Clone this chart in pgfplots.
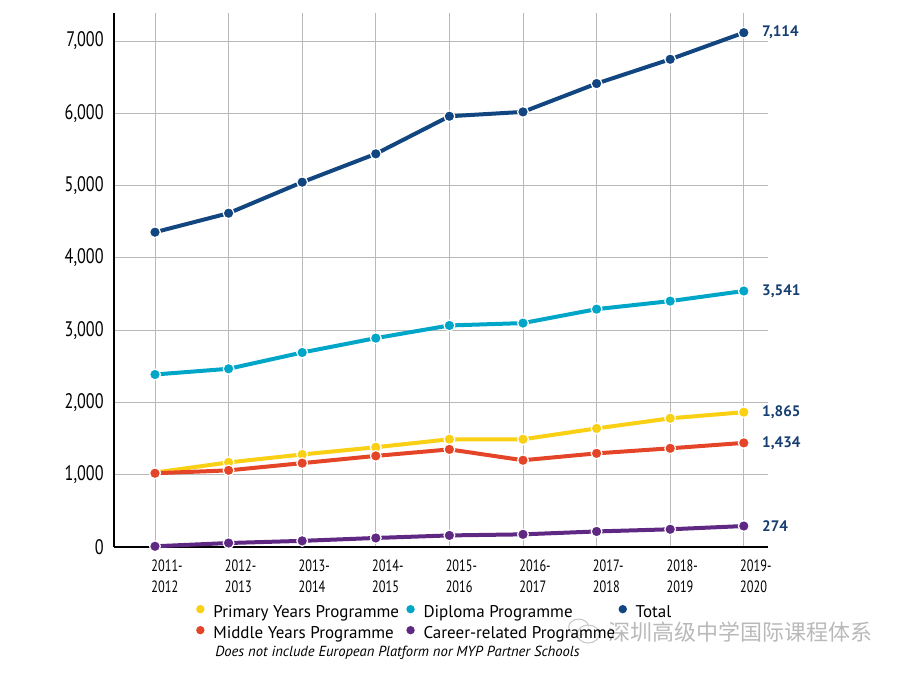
\documentclass[border=0pt]{standalone}
\usepackage{fontspec}
\setmainfont{PT Sans}
\newfontfamily\ycond[FakeStretch=0.77]{PT Sans}
\newfontfamily\xcond[FakeStretch=0.75]{PT Sans}
\newfontfamily\cjk{Noto Sans CJK SC}
\usepackage{pgfplots}
\pgfplotsset{compat=1.18}
\definecolor{ctotal}{RGB}{18,70,128}
\definecolor{cdp}{RGB}{0,166,200}
\definecolor{cpyp}{RGB}{250,208,20}
\definecolor{cmyp}{RGB}{228,69,40}
\definecolor{ccp}{RGB}{95,40,130}
\definecolor{clab}{RGB}{22,62,112}
\begin{document}
\begin{tikzpicture}
\useasboundingbox (0,0) rectangle (450pt,337.5pt);
\begin{axis}[
  at={(57pt,64pt)}, anchor=south west,
  scale only axis, width=327pt, height=267pt,
  xmin=-0.557, xmax=8.329, ymin=0, ymax=7386,
  clip=false,
  axis x line=bottom, axis y line=left,
  axis line style={black, line width=0.9pt, -},
  major tick length=0pt,
  grid=major, major grid style={gray!55, line width=0.4pt},
  xtick={0,...,8},
  xticklabels={{2011-\\2012},{2012-\\2013},{2013-\\2014},{2014-\\2015},{2015-\\2016},{2016-\\2017},{2017-\\2018},{2018-\\2019},{2019-\\2020}},
  xticklabel style={align=left, font=\xcond\fontsize{8.2}{10.5}\selectfont, inner sep=0pt, anchor=north west, xshift=-2pt, yshift=-6pt},
  ytick={0,1000,...,7000},
  yticklabel style={font=\ycond\fontsize{10.5}{12}\selectfont, inner sep=0pt, anchor=east, xshift=-5pt},
  /pgf/number format/.cd, 1000 sep={,}, assume math mode=true, /pgfplots/.cd,
  every axis plot/.append style={line width=2pt, mark=*, mark size=2.7pt},
  legend image code/.code={\fill[#1, draw=none] (2.6pt,2.4pt) circle (2.1pt);},
  legend columns=3,
  legend style={at={(axis description cs:0.125,-0.105)}, anchor=north west,
    draw=none, fill=none, inner sep=0pt, column sep=0pt, row sep=0pt,
    font=\fontsize{8.5}{10}\selectfont,
    nodes={inner sep=0pt, text height=7pt, text depth=3.5pt}},
]
\addplot[color=cpyp, mark options={fill=cpyp, draw=white, line width=0.6pt}] coordinates {
 (0,1030) (1,1170) (2,1280) (3,1380) (4,1490) (5,1490) (6,1640) (7,1780) (8,1865)};
\addlegendentry{\hspace{4.4pt}\makebox[96.5pt][l]{Primary Years Programme}}
\addplot[color=cdp, mark options={fill=cdp, draw=white, line width=0.6pt}] coordinates {
 (0,2386) (1,2465) (2,2690) (3,2889) (4,3064) (5,3097) (6,3290) (7,3401) (8,3541)};
\addlegendentry{\hspace{4.4pt}\makebox[97.5pt][l]{Diploma Programme}}
\addplot[color=ctotal, mark options={fill=ctotal, draw=white, line width=0.6pt}] coordinates {
 (0,4354) (1,4617) (2,5046) (3,5438) (4,5958) (5,6018) (6,6410) (7,6746) (8,7114)};
\addlegendentry{\hspace{4.4pt}Total}
\addplot[color=cmyp, mark options={fill=cmyp, draw=white, line width=0.6pt}] coordinates {
 (0,1020) (1,1060) (2,1160) (3,1260) (4,1350) (5,1200) (6,1295) (7,1365) (8,1440)};
\addlegendentry{\hspace{4.4pt}\makebox[96.5pt][l]{Middle Years Programme}}
\addplot[color=ccp, mark options={fill=ccp, draw=white, line width=0.6pt}] coordinates {
 (0,10) (1,55) (2,85) (3,125) (4,160) (5,175) (6,215) (7,245) (8,290)};
\addlegendentry{\hspace{4.4pt}\makebox[97.5pt][l]{Career-related Programme}}
\begin{scope}[every node/.style={anchor=west, inner sep=0pt, xshift=9pt, text=clab, font=\bfseries\fontsize{7.6}{9}\selectfont}]
\node at (axis cs:8,7114) {7,114};
\node at (axis cs:8,3541) {3,541};
\node at (axis cs:8,1865) {1,865};
\node at (axis cs:8,1440) {1,434};
\node at (axis cs:8,290) {274};
\end{scope}
\node[anchor=west, inner sep=0pt, font=\itshape\fontsize{7.3}{8}\selectfont] at (axis description cs:0.1544,-0.1985) {Does not include European Platform nor MYP Partner Schools};
\node[anchor=west, inner sep=0pt, text=gray!55, font=\cjk\fontsize{11}{12}\selectfont] at (axis description cs:0.755,-0.159) {深圳高级中学国际课程体系};
\draw[gray!45, line width=0.5pt, fill=white, fill opacity=0.6] (axis description cs:0.7105,-0.150) ellipse (5pt and 4pt);
\draw[gray!45, line width=0.5pt, fill=white, fill opacity=0.6] (axis description cs:0.7250,-0.163) ellipse (5.5pt and 4.5pt);
\end{axis}
\end{tikzpicture}
\end{document}
